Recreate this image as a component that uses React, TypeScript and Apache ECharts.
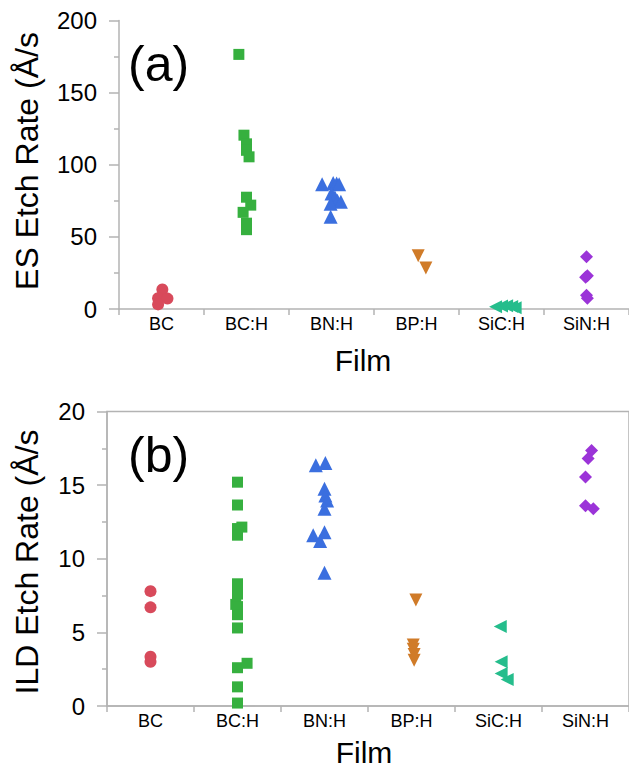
import React, { useEffect, useRef } from "react";
import * as echarts from "echarts";

const categories = ["BC", "BC:H", "BN:H", "BP:H", "SiC:H", "SiN:H"];
const colors = ["#d84a5b", "#36b03f", "#3b6fdf", "#d07b28", "#25bd8c", "#9b34d8"];
const symbols = ["circle", "rect", "triangle", "triangle", "triangle", "diamond"];
const symbolRotations = [0, 0, 0, 180, 90, 0];
const symbolSizes = [12, 11, 14, 13, 13, 13];

// (a) ES etch rate
const esBC = [13.5, 7.5, 7.2, 3.2];
const esBCJit = [0.01, -0.04, 0.07, -0.04];
const esBCH = [176.5, 120.5, 114.5, 110, 105.5, 77.5, 72, 67, 59.5, 55];
const esBCHJit = [-0.09, -0.03, 0, 0, 0.03, 0, 0.05, -0.04, 0, 0];
const esBNH = [86.5, 87.3, 87, 86.5, 80, 77.5, 75, 74.3, 73, 64];
const esBNHJit = [-0.11, 0.02, 0.06, 0.09, 0, 0.04, 0.07, 0.11, -0.01, -0.01];
const esBPH = [37, 28.5];
const esBPHJit = [0.02, 0.11];
const esSiCH = [1.5, 2.0, 2.3, 1.8, 0.8];
const esSiCHJit = [-0.07, 0, 0.06, 0.12, 0.16];
const esSiNH = [36.2, 23, 22, 9.5, 7.5];
const esSiNHJit = [0, 0.01, -0.01, 0, 0.01];

// (b) ILD etch rate
const ildBC = [7.8, 6.7, 3.35, 3.0];
const ildBCJit = [0, 0, 0, 0];
const ildBCH = [15.2, 13.65, 12.15, 12.05, 11.6, 8.3, 7.6, 6.9, 6.75, 6.2, 5.3, 2.9, 2.6, 1.3, 0.2];
const ildBCHJit = [0, 0, 0.05, 0, 0, 0, 0, -0.02, 0, 0, 0, 0.11, 0, 0, 0];
const ildBNH = [16.35, 16.5, 14.75, 14.3, 13.95, 13.4, 11.6, 11.8, 11.2, 9.05];
const ildBNHJit = [-0.1, 0.01, 0, 0.01, 0.03, 0, -0.13, 0, -0.05, 0];
const ildBPH = [7.2, 4.15, 3.85, 3.5, 3.1];
const ildBPHJit = [0.05, 0.02, 0.02, 0.03, 0.03];
const ildSiCH = [5.4, 3.0, 2.2, 1.8];
const ildSiCHJit = [0.02, 0.03, 0.03, 0.1];
const ildSiNH = [17.35, 16.8, 15.55, 13.6, 13.4];
const ildSiNHJit = [0.07, 0.03, 0, 0, 0.09];

const esData = [esBC, esBCH, esBNH, esBPH, esSiCH, esSiNH];
const esJit = [esBCJit, esBCHJit, esBNHJit, esBPHJit, esSiCHJit, esSiNHJit];
const ildData = [ildBC, ildBCH, ildBNH, ildBPH, ildSiCH, ildSiNH];
const ildJit = [ildBCJit, ildBCHJit, ildBNHJit, ildBPHJit, ildSiCHJit, ildSiNHJit];

const esTicks = { min: 0, max: 200, interval: 50 };
const ildTicks = { min: 0, max: 20, interval: 5 };

const FONT = "Liberation Sans, Arial, sans-serif";
const AXIS_COLOR = "#b3b3b3";

export default function App() {
  const ref = useRef<HTMLDivElement>(null);
  useEffect(() => {
    if (!ref.current) return;
    const chart = echarts.init(ref.current, undefined, { renderer: "svg" });

    const catAxis = (gridIndex: number) => ({
      type: "category",
      gridIndex,
      data: categories,
      boundaryGap: true,
      axisLine: { show: true, onZero: false, lineStyle: { color: AXIS_COLOR, width: 1.5 } },
      axisTick: { show: true, length: 6, inside: false, lineStyle: { color: AXIS_COLOR, width: 1.5 } },
      axisLabel: { color: "#000", fontSize: 18, fontFamily: FONT, margin: 6 },
      splitLine: { show: false },
    });
    const valXAxis = (gridIndex: number) => ({
      type: "value",
      gridIndex,
      min: -0.5,
      max: 5.5,
      show: false,
      axisLine: { onZero: false },
      splitLine: { show: false },
    });
    const yAxis = (gridIndex: number, t: any) => ({
      type: "value",
      gridIndex,
      min: t.min,
      max: t.max,
      interval: t.interval,
      axisLine: { show: true, onZero: false, lineStyle: { color: AXIS_COLOR, width: 1.5 } },
      axisTick: { show: true, length: 10, lineStyle: { color: AXIS_COLOR, width: 1.5 } },
      minorTick: { show: true, splitNumber: 2, length: 5, lineStyle: { color: AXIS_COLOR, width: 1.5 } },
      axisLabel: {
        color: "#000",
        fontSize: 24,
        fontFamily: FONT,
        margin: 22,
      },
      splitLine: { show: false },
      minorSplitLine: { show: false },
    });

    const series: any[] = [];
    const addSeries = (data: number[][], jit: number[][], xAxisIndex: number, yAxisIndex: number) => {
      data.forEach((vals, ci) => {
        series.push({
          type: "scatter",
          name: categories[ci],
          xAxisIndex,
          yAxisIndex,
          symbol: symbols[ci],
          symbolRotate: symbolRotations[ci],
          symbolSize: symbolSizes[ci],
          itemStyle: { color: colors[ci], opacity: 1 },
          data: vals.map((v, i) => [ci + jit[ci][i], v]),
        });
      });
    };
    addSeries(esData, esJit, 1, 0);
    addSeries(ildData, ildJit, 3, 1);

    chart.setOption({
      animation: false,
      backgroundColor: "#fff",
      grid: [
        { left: 119, top: 20.5, width: 516, height: 288.5, containLabel: false },
        {
          left: 107,
          top: 411.5,
          width: 525,
          height: 294.5,
          show: true,
          borderColor: AXIS_COLOR,
          borderWidth: 1.5,
          containLabel: false,
        },
      ],
      xAxis: [catAxis(0), valXAxis(0), catAxis(1), valXAxis(1)],
      yAxis: [yAxis(0, esTicks), yAxis(1, ildTicks)],
      series,
      graphic: [
        {
          type: "text",
          x: 27,
          y: 161,
          rotation: Math.PI / 2,
          style: {
            text: "ES Etch Rate (Å/s",
            fontSize: 32,
            fontFamily: FONT,
            fill: "#000",
            align: "center",
            verticalAlign: "middle",
          },
        },
        {
          type: "text",
          x: 27,
          y: 562,
          rotation: Math.PI / 2,
          style: {
            text: "ILD Etch Rate (Å/s",
            fontSize: 32,
            fontFamily: FONT,
            fill: "#000",
            align: "center",
            verticalAlign: "middle",
          },
        },
        {
          type: "text",
          x: 363,
          y: 360,
          style: { text: "Film", fontSize: 30, fontFamily: FONT, fill: "#000", align: "center", verticalAlign: "middle" },
        },
        {
          type: "text",
          x: 364,
          y: 752,
          style: { text: "Film", fontSize: 30, fontFamily: FONT, fill: "#000", align: "center", verticalAlign: "middle" },
        },
        {
          type: "text",
          x: 128,
          y: 64,
          style: { text: "(a)", fontSize: 50, fontFamily: FONT, fill: "#000", align: "left", verticalAlign: "middle" },
        },
        {
          type: "text",
          x: 128,
          y: 455,
          style: { text: "(b)", fontSize: 50, fontFamily: FONT, fill: "#000", align: "left", verticalAlign: "middle" },
        },
      ],
    });
    return () => chart.dispose();
  }, []);
  return (
    <div
      ref={ref}
      style={{ position: "absolute", left: 0, top: 0, width: 629, height: 776 }}
    />
  );
}
